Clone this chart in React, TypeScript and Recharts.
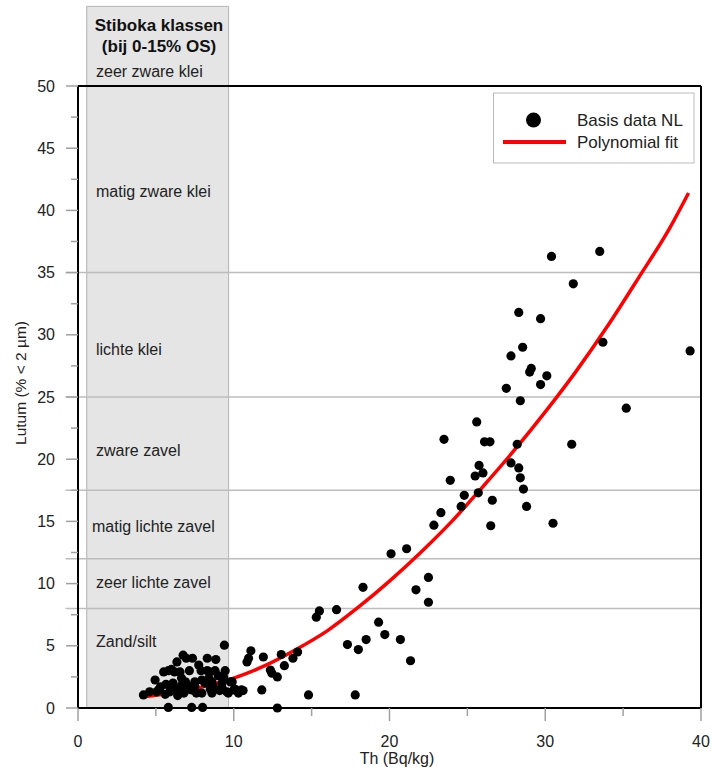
import React from 'react';
import {
  ComposedChart,
  Scatter,
  Line,
  XAxis,
  YAxis,
  ReferenceArea,
  ReferenceLine,
} from 'recharts';

// Th (Bq/kg) vs Lutum (% < 2 µm)
const basisData = [
  [4.2, 1.05], [4.6, 1.3], [4.95, 2.25], [5.05, 1.3], [5.2, 1.5], [5.3, 1.7], [5.5, 2.9],
  [5.6, 1.1], [5.65, 1.9], [5.8, 0.05], [5.8, 3.0], [5.9, 1.3], [6.0, 3.1], [6.0, 1.8],
  [6.1, 2.0], [6.2, 2.9], [6.3, 1.5], [6.35, 3.7], [6.4, 1.0], [6.55, 2.9], [6.65, 2.4],
  [6.65, 1.8], [6.75, 4.25], [6.8, 1.2], [6.9, 2.1], [6.95, 4.0], [7.0, 1.85], [7.15, 3.0],
  [7.2, 1.5], [7.3, 0.05], [7.3, 1.45], [7.35, 4.0], [7.5, 2.1], [7.5, 1.75], [7.6, 1.2],
  [7.75, 3.45], [7.9, 3.0], [7.95, 2.25], [7.95, 1.2], [8.0, 0.05], [8.15, 2.0], [8.3, 3.0],
  [8.3, 4.0], [8.4, 2.4], [8.45, 2.9], [8.5, 1.5], [8.6, 1.2], [8.6, 2.1], [8.7, 1.7],
  [8.8, 3.0], [8.85, 3.9], [9.0, 2.6], [9.1, 1.4], [9.25, 2.0], [9.25, 1.6], [9.35, 2.5],
  [9.4, 5.05], [9.45, 3.0], [9.55, 1.3], [9.65, 1.2], [9.8, 2.1], [9.9, 2.1], [10.0, 1.45],
  [10.1, 1.5], [10.3, 1.2], [10.5, 1.45], [10.6, 1.4], [10.85, 3.7], [10.95, 4.0], [11.1, 4.6],
  [11.8, 1.45], [11.9, 4.1], [12.35, 3.05], [12.45, 2.8], [12.8, 2.5], [12.8, 0.0], [13.05, 4.3],
  [13.25, 3.4], [13.8, 4.0], [14.1, 4.5], [14.8, 1.05], [15.3, 7.3], [15.5, 7.8], [16.6, 7.9],
  [17.3, 5.1], [17.8, 1.05], [18.0, 4.7], [18.3, 9.7], [18.5, 5.5], [19.3, 6.9], [19.7, 5.9],
  [20.1, 12.4], [20.7, 5.5], [21.1, 12.8], [21.35, 3.8], [21.7, 9.5], [22.5, 10.5], [22.5, 8.5],
  [22.85, 14.7], [23.3, 15.7], [23.5, 21.6], [23.9, 18.3], [24.6, 16.2], [24.8, 17.1],
  [25.5, 18.65], [25.6, 23.0], [25.7, 17.3], [25.75, 19.5], [26.0, 18.9], [26.1, 21.4],
  [26.45, 21.4], [26.5, 14.65], [26.6, 16.7], [27.5, 25.7], [27.8, 19.7], [27.8, 28.3],
  [28.2, 21.2], [28.3, 19.3], [28.3, 31.8], [28.4, 18.5], [28.4, 24.7], [28.55, 29.0],
  [28.6, 17.6], [28.8, 16.2], [29.0, 27.0], [29.1, 27.3], [29.7, 26.0], [29.7, 31.3],
  [30.1, 26.7], [30.4, 36.3], [30.5, 14.85], [31.7, 21.2], [31.8, 34.1], [33.5, 36.7],
  [33.7, 29.4], [35.2, 24.1], [39.3, 28.7],
];

// red polynomial curve
const fitX = [4.2, 6, 8, 10, 12, 14, 16, 18, 20, 22, 24, 26, 28, 30, 32, 34, 36, 38, 39.2];
const fitY = [0.9, 1.2, 1.7, 2.4, 3.4, 4.7, 6.2, 8.1, 10.2, 12.5, 15.0, 17.8, 20.7, 23.8, 27.1, 30.7, 34.6, 38.6, 41.4];

// Stiboka class boundaries (% lutum)
const classBounds = [8, 12, 17.5, 25, 35];
const classLabels = [
  { text: 'zeer zware klei', y: 71, x: 96 },
  { text: 'matig zware klei', y: 191, x: 96 },
  { text: 'lichte klei', y: 349, x: 96 },
  { text: 'zware zavel', y: 450, x: 96 },
  { text: 'matig lichte zavel', y: 526, x: 92 },
  { text: 'zeer lichte zavel', y: 582, x: 96 },
  { text: 'Zand/silt', y: 641, x: 96 },
];

const yTicks = [0, 2.5, 5, 7.5, 10, 12.5, 15, 17.5, 20, 22.5, 25, 27.5, 30, 32.5, 35, 37.5, 40, 42.5, 45, 47.5, 50];
const xTicks = [0, 5, 10, 15, 20, 25, 30, 35, 40];

const points = basisData.map(([x, y]) => ({ x, y }));
const fit = fitX.map((x, i) => ({ x, y: fitY[i] }));

const FONT = '"Liberation Sans", Arial, sans-serif';
const AXIS_X = 78;
const AXIS_Y = 708;

const YTick = (props: any) => {
  const { y, payload } = props;
  const major = payload.value % 5 === 0;
  return (
    <g>
      <line x1={AXIS_X - (major ? 12 : 7)} x2={AXIS_X} y1={y} y2={y} stroke="#a0a0a0" strokeWidth={1.5} />
      {major && (
        <text x={55} y={y} dy="0.35em" textAnchor="end" fontSize={16} fill="#222" fontFamily={FONT}>
          {payload.value}
        </text>
      )}
    </g>
  );
};

const XTick = (props: any) => {
  const { x, payload } = props;
  const major = payload.value % 10 === 0;
  return (
    <g>
      <line x1={x} x2={x} y1={AXIS_Y} y2={AXIS_Y + (major ? 13 : 8)} stroke="#a0a0a0" strokeWidth={1.5} />
      {major && (
        <text x={x} y={741} dy="0.35em" textAnchor="middle" fontSize={16} fill="#222" fontFamily={FONT}>
          {payload.value}
        </text>
      )}
    </g>
  );
};

const Dot = (props: any) => <circle cx={props.cx} cy={props.cy} r={4.6} fill="#000" />;

export default function App() {
  return (
    <div style={{ position: 'relative', width: 712, height: 771, fontFamily: FONT }}>
      <style>{`body{margin:0}`}</style>
      <ComposedChart
        width={712}
        height={771}
        margin={{ top: 86, right: 11, bottom: 0, left: 0 }}
      >
        <XAxis
          type="number"
          dataKey="x"
          domain={[0, 40]}
          ticks={xTicks}
          interval={0}
          height={63}
          tick={<XTick />}
          tickLine={false}
          axisLine={{ stroke: '#000', strokeWidth: 2 }}
        />
        <YAxis
          type="number"
          dataKey="y"
          domain={[0, 50]}
          ticks={yTicks}
          interval={0}
          width={78}
          tick={<YTick />}
          tickLine={false}
          axisLine={{ stroke: '#000', strokeWidth: 2 }}
        />
        <ReferenceArea
          x1={0.56}
          x2={9.67}
          y1={0}
          y2={56.4}
          ifOverflow="visible"
          fill="#e5e5e5"
          fillOpacity={1}
          stroke="#b3b3b3"
          strokeWidth={1}
        />
        {classBounds.map((b) => (
          <ReferenceLine
            key={b}
            segment={[{ x: -0.8, y: b }, { x: 40, y: b }]}
            ifOverflow="visible"
            stroke="#bdbdbd"
            strokeWidth={1.5}
          />
        ))}
        <ReferenceLine y={50} stroke="#000" strokeWidth={2} />
        <ReferenceLine x={40} stroke="#000" strokeWidth={2} />
        <Scatter data={points} dataKey="y" shape={<Dot />} isAnimationActive={false} />
        <Line
          data={fit}
          dataKey="y"
          type="monotone"
          stroke="#ff0000"
          strokeWidth={3.5}
          dot={false}
          activeDot={false}
          isAnimationActive={false}
        />
      </ComposedChart>
      <svg
        width={712}
        height={771}
        style={{ position: 'absolute', left: 0, top: 0, pointerEvents: 'none' }}
        fontFamily={FONT}
      >
        <text x={159} y={25} dy="0.35em" textAnchor="middle" fontSize={17} fontWeight="bold" fill="#111">
          Stiboka klassen
        </text>
        <text x={159} y={46} dy="0.35em" textAnchor="middle" fontSize={17} fontWeight="bold" fill="#111">
          (bij 0-15% OS)
        </text>
        {classLabels.map((c) => (
          <text key={c.text} x={c.x} y={c.y} dy="0.35em" fontSize={16} fill="#222">
            {c.text}
          </text>
        ))}
        <text
          x={21}
          y={383}
          dy="0.35em"
          textAnchor="middle"
          fontSize={15.5}
          fill="#222"
          transform="rotate(-90 21 383)"
        >
          Lutum (% &lt; 2 µm)
        </text>
        <text x={397} y={758} dy="0.35em" textAnchor="middle" fontSize={16} fill="#222">
          Th (Bq/kg)
        </text>
        <rect x={493.5} y={93} width={200.5} height={70} fill="#fff" stroke="#bbb" strokeWidth={1} />
        <circle cx={533.5} cy={120} r={7.5} fill="#000" />
        <text x={577} y={120} dy="0.35em" fontSize={17} fill="#222">Basis data NL</text>
        <line x1={503} x2={566} y1={142} y2={142} stroke="#ff0000" strokeWidth={4} />
        <text x={577} y={142} dy="0.35em" fontSize={17} fill="#222">Polynomial fit</text>
      </svg>
    </div>
  );
}
